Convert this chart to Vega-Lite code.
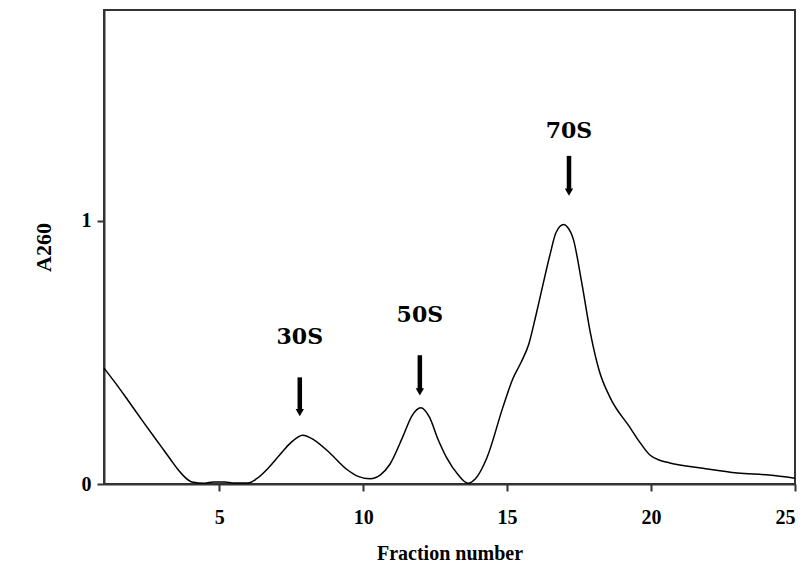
{
  "$schema": "https://vega.github.io/schema/vega-lite/v6.json",
  "width": 691,
  "height": 474,
  "autosize": {"type": "none"},
  "padding": {"left": 104, "top": 10, "right": 17, "bottom": 90},
  "background": "white",
  "config": {
    "view": {"stroke": "#333333", "strokeWidth": 2},
    "font": "Liberation Serif",
    "axis": {
      "grid": false,
      "domainColor": "#333333",
      "domainWidth": 2,
      "tickColor": "#333333",
      "tickWidth": 2,
      "tickSize": 7,
      "labelFont": "Liberation Serif",
      "labelFontWeight": "bold",
      "labelFontSize": 20,
      "labelColor": "black",
      "titleFont": "Liberation Serif",
      "titleFontWeight": "bold",
      "titleFontSize": 20,
      "titleColor": "black"
    }
  },
  "datasets": {
    "curve": [
      {"fraction": 1.0, "a260": 0.44},
      {"fraction": 1.4, "a260": 0.383},
      {"fraction": 1.83, "a260": 0.318},
      {"fraction": 2.4, "a260": 0.23},
      {"fraction": 3.0, "a260": 0.14},
      {"fraction": 3.3, "a260": 0.095},
      {"fraction": 3.57, "a260": 0.055},
      {"fraction": 3.8, "a260": 0.027},
      {"fraction": 4.05, "a260": 0.008},
      {"fraction": 4.5, "a260": 0.003},
      {"fraction": 4.8, "a260": 0.008},
      {"fraction": 5.2, "a260": 0.008},
      {"fraction": 5.5, "a260": 0.004},
      {"fraction": 6.0, "a260": 0.004},
      {"fraction": 6.3, "a260": 0.02},
      {"fraction": 6.7, "a260": 0.06},
      {"fraction": 7.1, "a260": 0.11},
      {"fraction": 7.5, "a260": 0.158},
      {"fraction": 7.9, "a260": 0.185},
      {"fraction": 8.3, "a260": 0.167},
      {"fraction": 8.85, "a260": 0.117},
      {"fraction": 9.44, "a260": 0.055},
      {"fraction": 9.8, "a260": 0.03},
      {"fraction": 10.24, "a260": 0.02},
      {"fraction": 10.6, "a260": 0.035},
      {"fraction": 10.93, "a260": 0.075},
      {"fraction": 11.38, "a260": 0.18},
      {"fraction": 11.7, "a260": 0.26},
      {"fraction": 12.0, "a260": 0.29},
      {"fraction": 12.3, "a260": 0.255},
      {"fraction": 12.6, "a260": 0.17},
      {"fraction": 12.9, "a260": 0.1},
      {"fraction": 13.3, "a260": 0.035},
      {"fraction": 13.64, "a260": 0.003},
      {"fraction": 13.9, "a260": 0.02},
      {"fraction": 14.3, "a260": 0.1},
      {"fraction": 14.85, "a260": 0.29},
      {"fraction": 15.2, "a260": 0.4},
      {"fraction": 15.5, "a260": 0.465},
      {"fraction": 15.75, "a260": 0.53},
      {"fraction": 16.0, "a260": 0.64},
      {"fraction": 16.2, "a260": 0.735},
      {"fraction": 16.5, "a260": 0.875},
      {"fraction": 16.7, "a260": 0.955},
      {"fraction": 16.97, "a260": 0.985},
      {"fraction": 17.1, "a260": 0.975},
      {"fraction": 17.3, "a260": 0.93},
      {"fraction": 17.6, "a260": 0.76},
      {"fraction": 17.9, "a260": 0.57},
      {"fraction": 18.2, "a260": 0.43},
      {"fraction": 18.57, "a260": 0.33},
      {"fraction": 19.26, "a260": 0.216},
      {"fraction": 19.6, "a260": 0.16},
      {"fraction": 19.96, "a260": 0.11},
      {"fraction": 20.3, "a260": 0.09},
      {"fraction": 20.65, "a260": 0.08},
      {"fraction": 21.8, "a260": 0.06},
      {"fraction": 23.0, "a260": 0.042},
      {"fraction": 24.1, "a260": 0.034},
      {"fraction": 25.0, "a260": 0.022}
    ],
    "peaks": [
      {"label": "30S", "x": 7.8, "top": 0.405, "tip": 0.275, "ly": 0.557},
      {"label": "50S", "x": 11.97, "top": 0.489, "tip": 0.354, "ly": 0.64},
      {"label": "70S", "x": 17.15, "top": 1.246, "tip": 1.112, "ly": 1.34}
    ]
  },
  "layer": [
    {
      "data": {"name": "curve"},
      "mark": {"type": "line", "color": "black", "strokeWidth": 1.5, "interpolate": "monotone"},
      "encoding": {
        "x": {
          "field": "fraction", "type": "quantitative",
          "scale": {"domain": [1, 25], "nice": false, "zero": false},
          "axis": {"values": [5, 10, 15, 20, 25], "format": "d", "title": "Fraction number", "labelPadding": 16, "titlePadding": 16}
        },
        "y": {
          "field": "a260", "type": "quantitative",
          "scale": {"domain": [0, 1.8], "nice": false},
          "axis": {"values": [0, 1], "format": "d", "title": "A260", "titleFontSize": 22, "labelPadding": 6, "titlePadding": 26}
        }
      }
    },
    {
      "data": {"name": "peaks"},
      "mark": {"type": "rule", "color": "black", "strokeWidth": 4.5},
      "encoding": {
        "x": {"field": "x", "type": "quantitative"},
        "y": {"field": "top", "type": "quantitative"},
        "y2": {"field": "tip"}
      }
    },
    {
      "data": {"name": "peaks"},
      "mark": {"type": "point", "shape": "triangle-down", "filled": true, "color": "black", "size": 70, "opacity": 1, "yOffset": 1},
      "encoding": {
        "x": {"field": "x", "type": "quantitative"},
        "y": {"field": "tip", "type": "quantitative"}
      }
    },
    {
      "data": {"name": "peaks"},
      "mark": {"type": "text", "font": "DejaVu Serif", "fontWeight": "bold", "fontSize": 22, "color": "black", "baseline": "middle", "align": "center"},
      "encoding": {
        "x": {"field": "x", "type": "quantitative"},
        "y": {"field": "ly", "type": "quantitative"},
        "text": {"field": "label"}
      }
    }
  ]
}
